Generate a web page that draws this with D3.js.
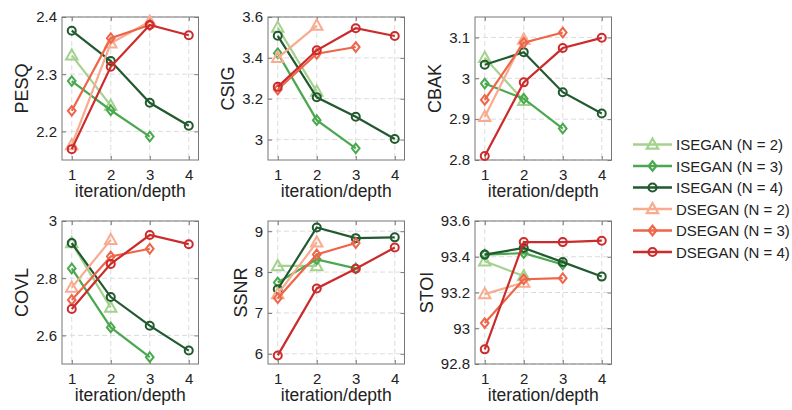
<!DOCTYPE html>
<html>
<head>
<meta charset="utf-8">
<script src="https://cdn.jsdelivr.net/npm/d3@7"></script>
<style>
  body { margin: 0; background: #fff; }
  svg { font-family: "Liberation Sans", Arial, sans-serif; }
</style>
</head>
<body>
<svg id="chart" width="792" height="410"></svg>
<script>
var width = 792, height = 410;

// series order: ISEGAN N=2,3,4 then DSEGAN N=2,3,4
var seriesNames = ["ISEGAN (N = 2)", "ISEGAN (N = 3)", "ISEGAN (N = 4)",
                   "DSEGAN (N = 2)", "DSEGAN (N = 3)", "DSEGAN (N = 4)"];
var iterations = [1, 2, 3, 4];

var pesq = [
  [2.333, 2.245],
  [2.288, 2.237, 2.191],
  [2.376, 2.323, 2.250, 2.210],
  [2.176, 2.354, 2.392],
  [2.236, 2.363, 2.386],
  [2.169, 2.313, 2.386, 2.368]
];
var csig = [
  [3.548, 3.235],
  [3.423, 3.095, 2.957],
  [3.508, 3.207, 3.112, 3.003],
  [3.400, 3.558],
  [3.245, 3.420, 3.453],
  [3.258, 3.437, 3.545, 3.507]
];
var cbak = [
  [3.050, 2.945],
  [2.987, 2.950, 2.877],
  [3.033, 3.064, 2.966, 2.914],
  [2.906, 3.095],
  [2.947, 3.087, 3.112],
  [2.810, 2.990, 3.074, 3.099]
];
var covl = [
  [2.923, 2.697],
  [2.834, 2.628, 2.524],
  [2.923, 2.734, 2.634, 2.547],
  [2.767, 2.934],
  [2.724, 2.876, 2.903],
  [2.692, 2.850, 2.951, 2.919]
];
var ssnr = [
  [8.15, 8.15],
  [7.745, 8.31, 8.09],
  [7.58, 9.09, 8.83, 8.85],
  [7.46, 8.73],
  [7.36, 8.43, 8.71],
  [5.96, 7.60, 8.08, 8.60]
];
var stoi = [
  [93.375, 93.292],
  [93.412, 93.420, 93.357],
  [93.412, 93.449, 93.370, 93.289],
  [93.191, 93.256],
  [93.029, 93.274, 93.280],
  [92.882, 93.482, 93.482, 93.490]
];

var pesqTicks = [2.2, 2.3, 2.4];
var csigTicks = [3, 3.2, 3.4, 3.6];
var cbakTicks = [2.8, 2.9, 3, 3.1];
var covlTicks = [2.6, 2.8, 3];
var ssnrTicks = [6, 7, 8, 9];
var stoiTicks = [92.8, 93, 93.2, 93.4, 93.6];

var colors = ["#a3d28f", "#4aa94f", "#215a2e", "#f8ab8e", "#ee6549", "#cc2b2b"];
var shapes = ["triangle", "diamond", "circle", "triangle", "diamond", "circle"];

var panels = [
  { label: "PESQ", data: pesq, domain: [2.15, 2.4], ticks: pesqTicks, x: 62, y: 17 },
  { label: "CSIG", data: csig, domain: [2.9, 3.6], ticks: csigTicks, x: 268, y: 17 },
  { label: "CBAK", data: cbak, domain: [2.8, 3.15], ticks: cbakTicks, x: 475, y: 17 },
  { label: "COVL", data: covl, domain: [2.5, 3], ticks: covlTicks, x: 62, y: 221 },
  { label: "SSNR", data: ssnr, domain: [5.75, 9.25], ticks: ssnrTicks, x: 268, y: 221 },
  { label: "STOI", data: stoi, domain: [92.8, 93.6], ticks: stoiTicks, x: 475, y: 221 }
];
var pw = 136.5, ph = 143;

var svg = d3.select("#chart");

function markerPath(shape, s) {
  if (shape === "diamond")
    return "M0," + (-s) + "L" + (s * 0.8) + ",0L0," + s + "L" + (-s * 0.8) + ",0Z";
  // triangle
  return "M0," + (-s) + "L" + (s * 0.95) + "," + (s * 0.7) + "L" + (-s * 0.95) + "," + (s * 0.7) + "Z";
}

function drawMarker(g, shape, color, cx, cy, sw) {
  if (shape === "circle") {
    g.append("circle").attr("cx", cx).attr("cy", cy).attr("r", 4)
      .attr("fill", "none").attr("stroke", color).attr("stroke-width", sw);
  } else {
    g.append("path").attr("d", markerPath(shape, shape === "diamond" ? 4.8 : 6))
      .attr("transform", "translate(" + cx + "," + cy + ")")
      .attr("fill", "none").attr("stroke", color).attr("stroke-width", sw);
  }
}

panels.forEach(function(p) {
  var g = svg.append("g").attr("transform", "translate(" + p.x + "," + p.y + ")");
  var x = d3.scaleLinear().domain([0.75, 4.25]).range([0, pw]);
  var y = d3.scaleLinear().domain(p.domain).range([ph, 0]);

  // grid
  g.append("g").selectAll("line").data(iterations).enter().append("line")
    .attr("x1", function(d) { return x(d); }).attr("x2", function(d) { return x(d); })
    .attr("y1", 0).attr("y2", ph)
    .attr("stroke", "#dcdcdc").attr("stroke-width", 1).attr("stroke-dasharray", "5,3");
  g.append("g").selectAll("line").data(p.ticks).enter().append("line")
    .attr("y1", function(d) { return y(d); }).attr("y2", function(d) { return y(d); })
    .attr("x1", 0).attr("x2", pw)
    .attr("stroke", "#dcdcdc").attr("stroke-width", 1).attr("stroke-dasharray", "5,3");

  // axes
  var xAxis = g.append("g").attr("transform", "translate(0," + ph + ")")
    .call(d3.axisBottom(x).tickValues(iterations).tickSize(-4).tickPadding(9).tickFormat(d3.format("d")));
  var xTop = g.append("g").call(d3.axisTop(x).tickValues(iterations).tickSize(-4).tickFormat(""));
  var yAxis = g.append("g")
    .call(d3.axisLeft(y).tickValues(p.ticks).tickSize(-4).tickPadding(5).tickFormat(function(d) { return String(+d.toFixed(2)); }));
  var yRight = g.append("g").attr("transform", "translate(" + pw + ",0)")
    .call(d3.axisRight(y).tickValues(p.ticks).tickSize(-4).tickFormat(""));
  [xAxis, xTop, yAxis, yRight].forEach(function(a) {
    a.select(".domain").remove();
    a.selectAll(".tick line").attr("stroke", "#777");
    a.selectAll("text").attr("font-size", 15).attr("fill", "#222")
      .attr("font-family", "'Liberation Sans', Arial, sans-serif");
  });
  g.append("rect").attr("width", pw).attr("height", ph)
    .attr("fill", "none").attr("stroke", "#777").attr("stroke-width", 1);

  // lines and markers
  p.data.forEach(function(vals, si) {
    var pts = vals.map(function(v, i) { return [x(iterations[i]), y(v)]; });
    g.append("path").attr("d", d3.line()(pts))
      .attr("fill", "none").attr("stroke", colors[si]).attr("stroke-width", 2.2);
    pts.forEach(function(pt) { drawMarker(g, shapes[si], colors[si], pt[0], pt[1], 2); });
  });

  // labels
  g.append("text").attr("x", pw / 2).attr("y", ph + 37).attr("text-anchor", "middle")
    .attr("font-size", 17.5).attr("fill", "#222").text("iteration/depth");
  var maxW = 0;
  yAxis.selectAll("text").each(function() { maxW = Math.max(maxW, this.getComputedTextLength()); });
  var cx = -5 - maxW - 14;
  g.append("text").attr("transform", "translate(" + (cx + 6) + "," + (ph / 2) + ") rotate(-90)")
    .attr("text-anchor", "middle").attr("font-size", 18).attr("fill", "#222").text(p.label);
});

// legend
var lg = svg.append("g");
seriesNames.forEach(function(name, i) {
  var ly = 144.5 + i * 21.5;
  lg.append("line").attr("x1", 633).attr("x2", 672).attr("y1", ly).attr("y2", ly)
    .attr("stroke", colors[i]).attr("stroke-width", 2.5);
  drawMarker(lg, shapes[i], colors[i], 652.5, ly, 2.2);
  lg.append("text").attr("x", 676).attr("y", ly + 5.5).attr("font-size", 15)
    .attr("fill", "#222").text(name);
});
</script>
</body>
</html>
